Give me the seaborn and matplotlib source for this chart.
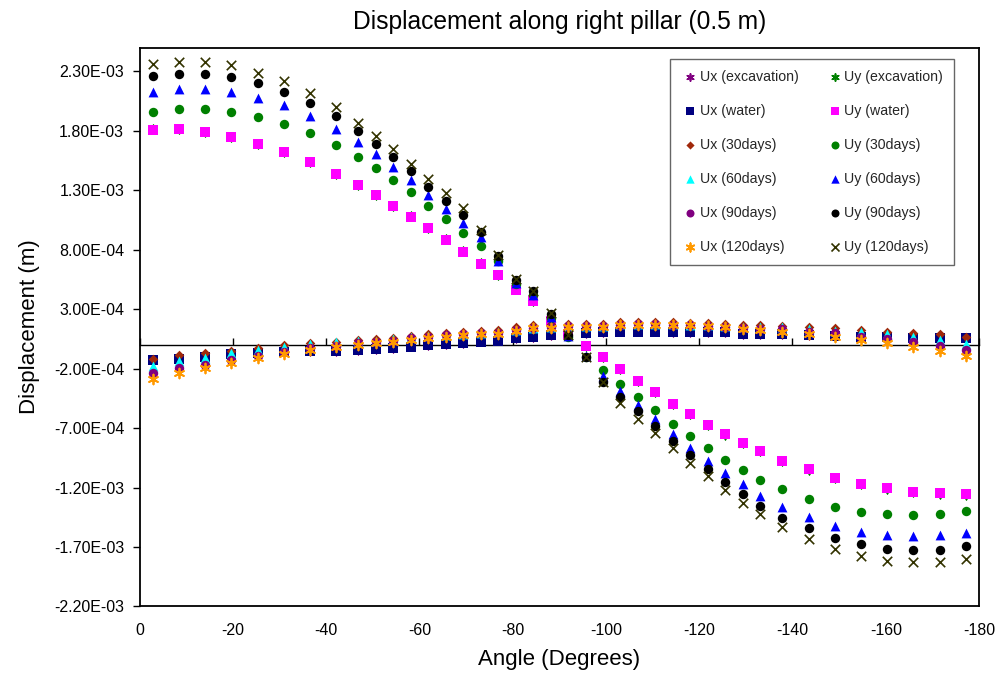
import matplotlib
matplotlib.use("Agg")
import matplotlib.pyplot as plt
from matplotlib.ticker import FuncFormatter, FixedLocator
import seaborn as sns

# Angle of each monitoring point along the pillar (degrees)
angles = [-2.8125, -8.4375, -14.0625, -19.6875, -25.3125, -30.9375, -36.5625, -42.1875,
          -46.875, -50.625, -54.375, -58.125, -61.875, -65.625, -69.375, -73.125,
          -76.875, -80.625, -84.375, -88.125, -91.875, -95.625, -99.375, -103.125,
          -106.875, -110.625, -114.375, -118.125, -121.875, -125.625, -129.375, -133.125,
          -137.8125, -143.4375, -149.0625, -154.6875, -160.3125, -165.9375, -171.5625, -177.1875]

# Displacements in millimetres (converted to metres when plotted)
ux_excavation = [-0.128, -0.114, -0.097, -0.077, -0.064, -0.055, -0.051, -0.049,
                 -0.043, -0.037, -0.027, -0.013, -0.003, 0.005, 0.017, 0.029,
                 0.037, 0.057, 0.069, 0.081, 0.091, 0.099, 0.111, 0.113,
                 0.113, 0.113, 0.108, 0.105, 0.105, 0.105, 0.094, 0.094,
                 0.094, 0.085, 0.077, 0.066, 0.066, 0.057, 0.057, 0.057]
uy_excavation = [1.812, 1.815, 1.793, 1.751, 1.692, 1.625, 1.540, 1.439,
                 1.344, 1.259, 1.170, 1.080, 0.982, 0.887, 0.786, 0.685,
                 0.590, 0.466, 0.370, 0.202, 0.089, -0.007, -0.106, -0.207,
                 -0.305, -0.400, -0.496, -0.583, -0.673, -0.754, -0.829, -0.895,
                 -0.976, -1.049, -1.120, -1.170, -1.209, -1.237, -1.251, -1.259]
ux_water = [-0.130, -0.115, -0.098, -0.078, -0.065, -0.056, -0.052, -0.050,
            -0.044, -0.038, -0.028, -0.014, -0.004, 0.004, 0.016, 0.028,
            0.036, 0.056, 0.068, 0.080, 0.090, 0.098, 0.110, 0.112,
            0.112, 0.112, 0.107, 0.104, 0.104, 0.104, 0.093, 0.093,
            0.093, 0.084, 0.076, 0.065, 0.065, 0.056, 0.056, 0.056]
uy_water = [1.809, 1.812, 1.790, 1.748, 1.689, 1.622, 1.537, 1.436,
            1.341, 1.256, 1.167, 1.077, 0.979, 0.884, 0.783, 0.682,
            0.587, 0.463, 0.368, 0.200, 0.090, -0.006, -0.104, -0.205,
            -0.303, -0.398, -0.494, -0.581, -0.671, -0.752, -0.827, -0.893,
            -0.974, -1.046, -1.117, -1.167, -1.206, -1.234, -1.248, -1.256]
ux_30days = [-0.120, -0.087, -0.065, -0.048, -0.023, -0.003, 0.014, 0.028,
             0.042, 0.048, 0.059, 0.076, 0.087, 0.098, 0.109, 0.118,
             0.126, 0.149, 0.165, 0.172, 0.177, 0.177, 0.177, 0.188,
             0.194, 0.194, 0.188, 0.182, 0.182, 0.177, 0.171, 0.168,
             0.162, 0.154, 0.140, 0.126, 0.112, 0.098, 0.093, 0.070]
uy_30days = [1.961, 1.980, 1.980, 1.961, 1.919, 1.860, 1.778, 1.677,
             1.579, 1.489, 1.388, 1.282, 1.167, 1.058, 0.942, 0.833,
             0.707, 0.513, 0.415, 0.225, 0.070, -0.100, -0.213, -0.326,
             -0.438, -0.550, -0.662, -0.768, -0.869, -0.965, -1.054, -1.136,
             -1.214, -1.296, -1.366, -1.405, -1.425, -1.433, -1.425, -1.394]
ux_60days = [-0.182, -0.140, -0.112, -0.070, -0.042, -0.014, 0.006, 0.028,
             0.034, 0.036, 0.048, 0.065, 0.076, 0.084, 0.093, 0.098,
             0.104, 0.126, 0.140, 0.150, 0.158, 0.160, 0.162, 0.172,
             0.176, 0.176, 0.172, 0.168, 0.165, 0.160, 0.154, 0.150,
             0.149, 0.132, 0.120, 0.107, 0.093, 0.070, 0.042, 0.008]
uy_60days = [2.126, 2.148, 2.148, 2.126, 2.076, 2.017, 1.927, 1.818,
             1.706, 1.607, 1.495, 1.383, 1.260, 1.142, 1.027, 0.903,
             0.709, 0.519, 0.415, 0.238, 0.075, -0.095, -0.261, -0.385,
             -0.502, -0.625, -0.749, -0.867, -0.979, -1.075, -1.172, -1.268,
             -1.360, -1.447, -1.520, -1.571, -1.599, -1.607, -1.599, -1.579]
ux_90days = [-0.233, -0.196, -0.168, -0.126, -0.090, -0.056, -0.028, -0.008,
             0.014, 0.022, 0.036, 0.056, 0.070, 0.082, 0.093, 0.098,
             0.100, 0.126, 0.140, 0.150, 0.158, 0.160, 0.160, 0.168,
             0.172, 0.172, 0.168, 0.165, 0.160, 0.150, 0.140, 0.135,
             0.130, 0.112, 0.098, 0.070, 0.048, 0.022, -0.008, -0.042]
uy_90days = [2.264, 2.280, 2.280, 2.249, 2.199, 2.129, 2.030, 1.921,
             1.798, 1.691, 1.579, 1.462, 1.330, 1.212, 1.091, 0.953,
             0.751, 0.549, 0.449, 0.263, 0.084, -0.104, -0.309, -0.435,
             -0.555, -0.682, -0.805, -0.926, -1.041, -1.153, -1.254, -1.352,
             -1.456, -1.543, -1.624, -1.675, -1.717, -1.725, -1.725, -1.694]
ux_120days = [-0.286, -0.233, -0.196, -0.154, -0.112, -0.079, -0.042, -0.020,
              0.000, 0.014, 0.025, 0.042, 0.056, 0.070, 0.079, 0.087,
              0.093, 0.120, 0.140, 0.140, 0.154, 0.149, 0.154, 0.168,
              0.168, 0.168, 0.168, 0.168, 0.160, 0.149, 0.135, 0.126,
              0.112, 0.093, 0.070, 0.042, 0.014, -0.014, -0.048, -0.090]
uy_120days = [2.362, 2.379, 2.379, 2.350, 2.286, 2.216, 2.118, 1.997,
              1.866, 1.759, 1.649, 1.521, 1.397, 1.277, 1.147, 0.962,
              0.757, 0.555, 0.454, 0.267, 0.084, -0.104, -0.314, -0.491,
              -0.620, -0.743, -0.869, -0.990, -1.102, -1.223, -1.327, -1.425,
              -1.531, -1.635, -1.719, -1.776, -1.818, -1.826, -1.826, -1.798]

x_ticks = [0, -20, -40, -60, -80, -100, -120, -140, -160, -180]
y_ticks = [-2.2e-3, -1.7e-3, -1.2e-3, -7.0e-4, -2.0e-4, 3.0e-4, 8.0e-4, 1.3e-3, 1.8e-3, 2.3e-3]

MM_TO_M = 1e-3
ASTERISK = (6, 2, 0)

# label, values, marker, colour, marker area (pt^2), line width for line-art markers
series = [
    ("Ux (excavation)", ux_excavation, ASTERISK, "#800080", 36, 1.2),
    ("Uy (excavation)", uy_excavation, ASTERISK, "#008000", 36, 1.2),
    ("Ux (water)", ux_water, "s", "#000080", 42, 0),
    ("Uy (water)", uy_water, "s", "#FF00FF", 42, 0),
    ("Ux (30days)", ux_30days, "D", "#A0280A", 24, 0),
    ("Uy (30days)", uy_30days, "o", "#008000", 46, 0),
    ("Ux (60days)", ux_60days, "^", "#00FFFF", 50, 0),
    ("Uy (60days)", uy_60days, "^", "#0000FF", 50, 0),
    ("Ux (90days)", ux_90days, "o", "#800080", 46, 0),
    ("Uy (90days)", uy_90days, "o", "#000000", 46, 0),
    ("Ux (120days)", ux_120days, ASTERISK, "#FF9900", 50, 1.3),
    ("Uy (120days)", uy_120days, "x", "#333300", 46, 1.2),
]

sns.set_theme(style="white")
plt.rcParams["font.family"] = ["Liberation Sans", "DejaVu Sans"]

fig = plt.figure(figsize=(9.98, 6.79), dpi=100)
ax = fig.add_axes([0.1398, 0.1068, 0.8412, 0.8232])

for label, values, marker, color, size, lw in series:
    kws = dict(marker=marker, color=color, s=size, label=label, ax=ax, zorder=3)
    if lw == 0:
        kws.update(linewidth=0, edgecolor=color)
    else:
        kws.update(linewidth=lw)
    sns.scatterplot(x=angles, y=[v * MM_TO_M for v in values], **kws)

ax.set_xlim(0, -180)
ax.set_ylim(-2.2e-3, 2.5e-3)
ax.xaxis.set_major_locator(FixedLocator(x_ticks))
ax.yaxis.set_major_locator(FixedLocator(y_ticks))
ax.xaxis.set_major_formatter(FuncFormatter(lambda v, p: f"{v:.0f}"))
ax.yaxis.set_major_formatter(FuncFormatter(lambda v, p: f"{v:.2E}"))
ax.tick_params(axis="x", length=0, pad=12, labelsize=11.5, colors="black")
ax.tick_params(axis="y", left=True, direction="out", length=5, width=1,
               pad=6, labelsize=11.5, colors="black")
for side in ("left", "right", "top", "bottom"):
    ax.spines[side].set_color("black")
    ax.spines[side].set_linewidth(1.3)
ax.grid(False)

# Horizontal axis crossing at zero, with upward tick marks
zero_axis = ax.secondary_xaxis(0, transform=ax.transData)
zero_axis.set_xticks(x_ticks)
zero_axis.tick_params(axis="x", direction="in", length=5, width=1,
                      labelbottom=False, colors="black")
zero_axis.spines["bottom"].set_color("black")
zero_axis.spines["bottom"].set_linewidth(1.0)

ax.set_xlabel("Angle (Degrees)", fontsize=16, labelpad=8, color="black")
ax.set_ylabel("Displacement (m)", fontsize=16, labelpad=10, color="black")
ax.set_title("Displacement along right pillar (0.5 m)", fontsize=17.7, pad=13,
             color="black")

handles, labels = ax.get_legend_handles_labels()
order = [0, 2, 4, 6, 8, 10, 1, 3, 5, 7, 9, 11]
leg = ax.legend([handles[i] for i in order], [labels[i] for i in order],
                ncol=2, loc="upper left",
                bbox_to_anchor=(670 / 998, 1 - 59 / 679),
                bbox_transform=fig.transFigure,
                fontsize=10.2, frameon=True, fancybox=False, markerscale=0.85,
                borderpad=0.75, labelspacing=1.42, handlelength=1.38,
                handletextpad=0.0, columnspacing=1.83, borderaxespad=0)
leg.get_frame().set_edgecolor("#404040")
leg.get_frame().set_linewidth(1.0)

fig.savefig("out.png", dpi=100)
